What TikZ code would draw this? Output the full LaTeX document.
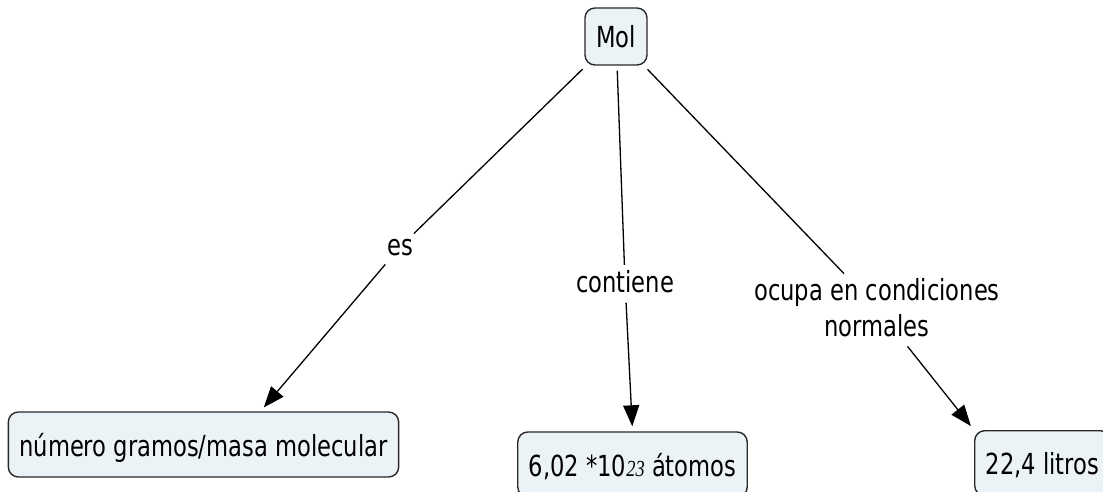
\documentclass[tikz,border=0pt]{standalone}
\usepackage{fontspec}
\setmainfont{DejaVu Sans}[FakeStretch=0.78]
\newfontfamily\expfont{Liberation Serif}[FakeStretch=0.8]
\usetikzlibrary{arrows.meta}
\definecolor{conceptfill}{RGB}{236,243,246}
\definecolor{conceptline}{RGB}{40,40,40}

\begin{document}
\begin{tikzpicture}[x=1pt,y=-1pt,
  concept/.style={draw=conceptline, line width=1.4pt, fill=conceptfill,
    rounded corners=10pt, inner xsep=11pt, inner ysep=0pt,
    minimum height=65pt, text height=26pt, text depth=3pt,
    font=\fontsize{29}{36}\selectfont},
  linklabel/.style={inner sep=5pt, align=center,
    font=\fontsize{29}{36}\selectfont},
  link/.style={line width=1.3pt, shorten <=5pt},
  linkarrow/.style={link, -{Triangle[length=21pt,width=16pt]}, shorten >=5pt}]

\useasboundingbox (0,0) rectangle (1103,492);

% concepts
\node[concept, minimum width=62pt, minimum height=57pt] (mol) at (616,36.5) {Mol};
\node[concept] (gramos) at (203.5,444.5) {número gramos/masa molecular};
\node[concept] (atomos) at (632.5,464.5)
  {6,02 *10{\expfont\itshape\fontsize{23}{28}\selectfont 23} átomos};
\node[concept, anchor=north west] (litros) at (974,430) {22,4 litros};

% linking phrases
\node[linklabel, anchor=base] (es) at (400,255) {es};
\node[linklabel, anchor=base] (contiene) at (625,292) {contiene};
\node[linklabel] (ocupa) at (877,308) {ocupa en condiciones\\normales};

% connectors
\draw[link] (mol) -- (es);
\draw[linkarrow] (es) -- ([xshift=57pt]gramos.north);
\draw[link] (mol) -- (contiene);
\draw[linkarrow] (contiene) -- (atomos.north);
\draw[link] (mol) -- (ocupa);
\draw[linkarrow] (ocupa) -- (litros.north west);
\end{tikzpicture}
\end{document}
